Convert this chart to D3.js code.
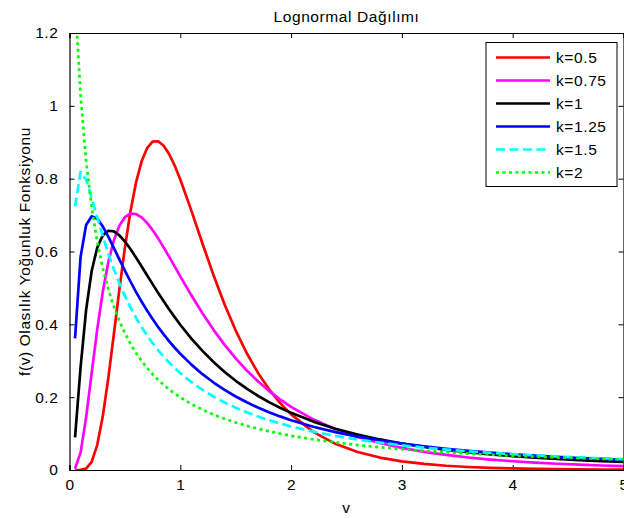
<!DOCTYPE html>
<html><head><meta charset="utf-8">
<script src="https://cdn.jsdelivr.net/npm/d3@7"></script>
<style>body{margin:0;background:#fff}text{font-family:"Liberation Sans",Arial,sans-serif}</style>
</head><body><svg id="c" width="624" height="518"></svg>
<script>
const v = [0.05,0.1,0.15,0.2,0.25,0.3,0.35,0.4,0.45,0.5,0.55,0.6,0.65,0.7,0.75,0.8,0.85,0.9,0.95,1.0,
  1.1,1.2,1.3,1.4,1.5,1.6,1.7,1.8,1.9,2.0,2.2,2.4,2.6,2.8,3.0,3.2,3.4,3.6,3.8,4.0,4.2,4.4,4.6,4.8,5.0];
const k05 = [0.0000,0.0002,0.0040,0.0225,0.0684,0.1466,0.2516,0.3721,0.4953,0.6104,0.7098,0.7891,0.8469,0.8838,0.9016,0.9028,0.8904,0.8671,0.8355,0.7979,
  0.7123,0.6221,0.5348,0.4544,0.3829,0.3206,0.2673,0.2221,0.1842,0.1526,0.1046,0.0718,0.0494,0.0342,0.0238,0.0167,0.0117,0.0083,0.0059,0.0043,0.0031,0.0022,0.0016,0.0012,0.0009];
const k075 = [0.0037,0.0478,0.1446,0.2660,0.3855,0.4888,0.5706,0.6305,0.6706,0.6941,0.7039,0.7030,0.6939,0.6786,0.6589,0.6361,0.6113,0.5852,0.5586,0.5319,
  0.4797,0.4304,0.3849,0.3436,0.3064,0.2732,0.2436,0.2174,0.1941,0.1735,0.1391,0.1121,0.0909,0.0740,0.0606,0.0499,0.0413,0.0344,0.0287,0.0241,0.0203,0.0172,0.0146,0.0124,0.0106];
const k1 = [0.0898,0.2816,0.4398,0.5463,0.6104,0.6442,0.6569,0.6554,0.6445,0.6275,0.6067,0.5836,0.5594,0.5348,0.5104,0.4864,0.4632,0.4408,0.4194,0.3989,
  0.3610,0.3270,0.2965,0.2693,0.2450,0.2233,0.2039,0.1865,0.1709,0.1569,0.1329,0.1133,0.0972,0.0839,0.0727,0.0634,0.0555,0.0488,0.0431,0.0382,0.0339,0.0303,0.0271,0.0243,0.0219];
const k125 = [0.3613,0.5850,0.6726,0.6966,0.6902,0.6690,0.6409,0.6099,0.5783,0.5473,0.5176,0.4893,0.4627,0.4377,0.4144,0.3926,0.3723,0.3534,0.3357,0.3192,
  0.2893,0.2631,0.2402,0.2199,0.2019,0.1859,0.1716,0.1588,0.1472,0.1368,0.1189,0.1041,0.0917,0.0812,0.0723,0.0647,0.0581,0.0524,0.0475,0.0431,0.0393,0.0359,0.0329,0.0303,0.0279];
const k15 = [0.7240,0.8187,0.7969,0.7478,0.6941,0.6424,0.5948,0.5517,0.5130,0.4781,0.4467,0.4183,0.3926,0.3694,0.3482,0.3288,0.3111,0.2948,0.2798,0.2660,
  0.2413,0.2200,0.2015,0.1852,0.1710,0.1583,0.1470,0.1368,0.1277,0.1195,0.1053,0.0935,0.0835,0.0751,0.0678,0.0615,0.0561,0.0513,0.0471,0.0434,0.0401,0.0371,0.0345,0.0321,0.0299];
const k2 = [1.2993,1.0282,0.8480,0.7215,0.6275,0.5547,0.4966,0.4490,0.4093,0.3757,0.3468,0.3218,0.2998,0.2805,0.2632,0.2478,0.2339,0.2213,0.2099,0.1995,
  0.1811,0.1655,0.1521,0.1405,0.1303,0.1213,0.1133,0.1061,0.0997,0.0939,0.0839,0.0755,0.0684,0.0624,0.0572,0.0526,0.0487,0.0451,0.0420,0.0392,0.0367,0.0345,0.0324,0.0306,0.0289];
const seriesNames = ["k=0.5","k=0.75","k=1","k=1.25","k=1.5","k=2"];
const xTicks = [0,1,2,3,4,5];
const yTicks = [0,0.2,0.4,0.6,0.8,1,1.2];

const series = [
  {name:seriesNames[0], y:k05, color:"#ff0000", dash:null},
  {name:seriesNames[1], y:k075, color:"#ff00ff", dash:null},
  {name:seriesNames[2], y:k1, color:"#000000", dash:null},
  {name:seriesNames[3], y:k125, color:"#0000ff", dash:null},
  {name:seriesNames[4], y:k15, color:"#00ffff", dash:"9,4.5"},
  {name:seriesNames[5], y:k2, color:"#00ff00", dash:"3,3.5"}
];

const FS = "15.5px", LS = "0.6px";
const L=69.5, R=623.5, T=33, B=470;
const svg = d3.select("#c");
const x = d3.scaleLinear().domain([0,5]).range([L,R]);
const y = d3.scaleLinear().domain([0,1.2]).range([B,T]);

svg.append("defs").append("clipPath").attr("id","clip")
  .append("rect").attr("x",L).attr("y",T).attr("width",R-L).attr("height",B-T);

const fmt = d => d===0?"0":String(d);
svg.append("g").attr("transform",`translate(0,${B})`)
  .call(d3.axisBottom(x).tickValues(xTicks).tickSize(-5).tickPadding(9).tickFormat(fmt));
svg.append("g").attr("transform",`translate(0,${T})`)
  .call(d3.axisTop(x).tickValues(xTicks).tickSize(-5).tickFormat(""));
svg.append("g").attr("transform",`translate(${L},0)`)
  .call(d3.axisLeft(y).tickValues(yTicks).tickSize(-5).tickPadding(11).tickFormat(fmt));
svg.append("g").attr("transform",`translate(${R},0)`)
  .call(d3.axisRight(y).tickValues(yTicks).tickSize(-5).tickFormat(""));
svg.selectAll(".domain").attr("stroke","#000").attr("stroke-width",1.2);
svg.selectAll(".tick line").attr("stroke","#000");
svg.selectAll(".tick text").attr("font-size",FS).attr("letter-spacing",LS).attr("fill","#000")
  .attr("font-family",'"Liberation Sans",Arial,sans-serif');

const line = d3.line().x((d,i)=>x(v[i])).y(d=>y(d));
const g = svg.append("g").attr("clip-path","url(#clip)");
series.forEach(s=>{
  g.append("path").datum(s.y).attr("d",line).attr("fill","none")
    .attr("stroke",s.color).attr("stroke-width",2.7)
    .attr("stroke-linejoin","round")
    .attr("stroke-dasharray",s.dash);
});

svg.append("text").attr("x",(L+R)/2).attr("y",22).attr("text-anchor","middle")
  .attr("font-size",FS).attr("letter-spacing",LS).text("Lognormal Dağılımı");
svg.append("text").attr("x",(L+R)/2).attr("y",513).attr("text-anchor","middle")
  .attr("font-size",FS).attr("letter-spacing",LS).text("v");
svg.append("text").attr("transform",`translate(30,${(T+B)/2}) rotate(-90)`).attr("text-anchor","middle")
  .attr("font-size",FS).attr("letter-spacing",LS).text("f(v) Olasılık Yoğunluk Fonksiyonu");

const lg = svg.append("g");
lg.append("rect").attr("x",486).attr("y",42.5).attr("width",131).attr("height",144)
  .attr("fill","#fff").attr("stroke","#000").attr("stroke-width",1);
series.forEach((s,i)=>{
  const yy = 57.5 + i*23;
  lg.append("line").attr("x1",496).attr("x2",550).attr("y1",yy).attr("y2",yy)
    .attr("stroke",s.color).attr("stroke-width",2.7).attr("stroke-dasharray",s.dash);
  lg.append("text").attr("x",556).attr("y",yy+5.5).attr("font-size",FS).attr("letter-spacing",LS).text(s.name);
});
</script></body></html>
